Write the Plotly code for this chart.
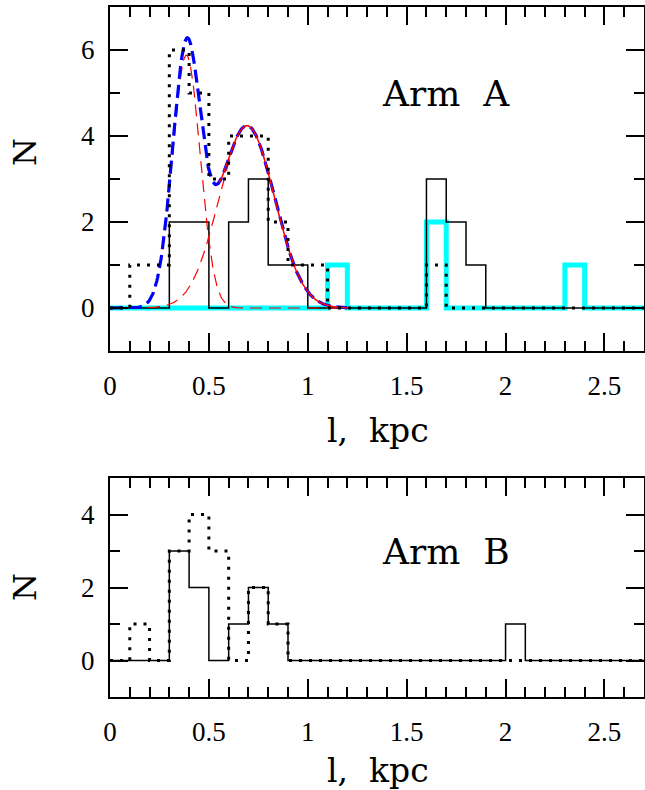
import numpy as np
import plotly.graph_objects as go

# bin edges (kpc), 0.1 kpc bins
edges = [0.0, 0.1, 0.2, 0.3, 0.4, 0.5, 0.6, 0.7, 0.8, 0.9, 1.0, 1.1, 1.2, 1.3, 1.4,
         1.5, 1.6, 1.7, 1.8, 1.9, 2.0, 2.1, 2.2, 2.3, 2.4, 2.5, 2.6, 2.7]

# Arm A histograms (counts per bin)
armA_solid = [0, 0, 0, 2, 2, 0, 2, 3, 1, 1, 0, 0, 0, 0, 0, 0, 3, 2, 1, 0, 0, 0, 0, 0, 0, 0, 0]
armA_dotted = [0, 1, 1, 6, 5, 3, 4, 4, 2, 1, 1, 0, 0, 0, 0, 0, 1, 0, 0, 0, 0, 0, 0, 0, 0, 0, 0]
armA_cyan = [0, 0, 0, 0, 0, 0, 0, 0, 0, 0, 0, 1, 0, 0, 0, 0, 2, 0, 0, 0, 0, 0, 0, 1, 0, 0, 0]

# Arm B histograms
armB_solid = [0, 0, 0, 3, 2, 0, 1, 2, 1, 0, 0, 0, 0, 0, 0, 0, 0, 0, 0, 0, 1, 0, 0, 0, 0, 0, 0]
armB_dotted = [0, 1, 0, 3, 4, 3, 0, 2, 1, 0, 0, 0, 0, 0, 0, 0, 0, 0, 0, 0, 0, 0, 0, 0, 0, 0, 0]

# Gaussian fit components (amplitude, centre kpc, sigma kpc)
g1 = (5.88, 0.386, 0.070)
g2 = (4.24, 0.692, 0.140)
fit_range = (0.0, 1.2)

x_ticks = [0, 0.5, 1, 1.5, 2, 2.5]
x_ticktext = ['0', '0.5', '1', '1.5', '2', '2.5']
yA_ticks = [0, 2, 4, 6]
yB_ticks = [0, 2, 4]


def gauss(x, p):
    a, m, s = p
    return a * np.exp(-(x - m) ** 2 / (2 * s * s))


def step(counts):
    return edges, list(counts) + [counts[-1]]


xf = np.linspace(fit_range[0], fit_range[1], 400)
y1 = gauss(xf, g1)
y2 = gauss(xf, g2)
ysum = y1 + y2
mask = xf >= 0.55

fig = go.Figure()

DOT = '3px,7px'
# ---- Arm A ----
x, y = step(armA_cyan)
fig.add_trace(go.Scatter(x=x, y=y, line_shape='hv', mode='lines',
                         line=dict(color='#00FFFF', width=5), xaxis='x', yaxis='y'))
x, y = step(armA_solid)
fig.add_trace(go.Scatter(x=x, y=y, line_shape='hv', mode='lines',
                         line=dict(color='black', width=1.5), xaxis='x', yaxis='y'))
fig.add_trace(go.Scatter(x=xf, y=y1, mode='lines',
                         line=dict(color='red', width=1.2, dash='12px,7px'), xaxis='x', yaxis='y'))
fig.add_trace(go.Scatter(x=xf, y=y2, mode='lines',
                         line=dict(color='red', width=1.2, dash='12px,7px'), xaxis='x', yaxis='y'))
fig.add_trace(go.Scatter(x=xf, y=ysum, mode='lines',
                         line=dict(color='blue', width=3.2, dash='13px,6px'), xaxis='x', yaxis='y'))
fig.add_trace(go.Scatter(x=xf[mask], y=ysum[mask], mode='lines',
                         line=dict(color='red', width=1.5), xaxis='x', yaxis='y'))
x, y = step(armA_dotted)
fig.add_trace(go.Scatter(x=x, y=y, line_shape='hv', mode='lines',
                         line=dict(color='black', width=3, dash=DOT), xaxis='x', yaxis='y'))

# ---- Arm B ----
x, y = step(armB_solid)
fig.add_trace(go.Scatter(x=x, y=y, line_shape='hv', mode='lines',
                         line=dict(color='black', width=1.5), xaxis='x2', yaxis='y2'))
x, y = step(armB_dotted)
fig.add_trace(go.Scatter(x=x, y=y, line_shape='hv', mode='lines',
                         line=dict(color='black', width=3, dash=DOT), xaxis='x2', yaxis='y2'))

W, H = 645, 790
xdom = [110 / W, 644 / W]
top_dom = [1 - 351 / H, 1 - 7 / H]
bot_dom = [1 - 697 / H, 1 - 478 / H]

tickfont = dict(family='Liberation Serif', size=27, color='black')
tick_style = dict(ticks='inside', ticklen=18, tickwidth=1.8, tickcolor='black',
                  showgrid=False, zeroline=False, automargin=False)
xminor = dict(dtick=0.1, tick0=0, ticks='inside', ticklen=10, tickwidth=1.5, tickcolor='black')
yminor = dict(dtick=1, tick0=0, ticks='inside', ticklen=10, tickwidth=1.5, tickcolor='black')

main_x = dict(range=[0, 2.7], tickvals=x_ticks, ticktext=x_ticktext, minor=xminor,
              showline=True, linecolor='black', linewidth=2, mirror=True,
              tickfont=tickfont, ticklabelstandoff=10, **tick_style)
main_y = dict(minor=yminor, showline=True, linecolor='black', linewidth=2, mirror=True,
              tickfont=tickfont, ticklabelstandoff=8, **tick_style)
mirror_x = dict(range=[0, 2.7], tickvals=x_ticks, minor=xminor, side='top',
                showticklabels=False, showline=False, **tick_style)
mirror_y = dict(minor=yminor, side='right', showticklabels=False, showline=False, **tick_style)

fig.update_layout(
    width=W, height=H, margin=dict(l=0, r=0, t=0, b=0, autoexpand=False),
    template='none',
    paper_bgcolor='white', plot_bgcolor='white', showlegend=False,
    xaxis=dict(domain=xdom, anchor='y', **main_x),
    yaxis=dict(domain=top_dom, anchor='x', range=[-1, 7], tickvals=yA_ticks, **main_y),
    xaxis2=dict(domain=xdom, anchor='y2', **main_x),
    yaxis2=dict(domain=bot_dom, anchor='x2', range=[-1, 5], tickvals=yB_ticks, **main_y),
    xaxis3=dict(overlaying='x', anchor='y', **mirror_x),
    yaxis3=dict(overlaying='y', anchor='x', range=[-1, 7], tickvals=yA_ticks, **mirror_y),
    xaxis4=dict(overlaying='x2', anchor='y2', **mirror_x),
    yaxis4=dict(overlaying='y2', anchor='x2', range=[-1, 5], tickvals=yB_ticks, **mirror_y),
)

# invisible anchor traces so the mirror axes are drawn
fig.add_trace(go.Scatter(x=[0], y=[0], mode='markers', marker=dict(opacity=0),
                         hoverinfo='skip', xaxis='x3', yaxis='y3'))
fig.add_trace(go.Scatter(x=[0], y=[0], mode='markers', marker=dict(opacity=0),
                         hoverinfo='skip', xaxis='x4', yaxis='y4'))

serif = 'DejaVu Serif'
ann = [
    dict(text='Arm  A', x=1.70, y=5.0, xref='x', yref='y', font=dict(family=serif, size=36, color='black')),
    dict(text='Arm  B', x=1.70, y=3.0, xref='x2', yref='y2', font=dict(family=serif, size=36, color='black')),
    dict(text='l,  kpc', x=378 / W, y=1 - 430 / H, xref='paper', yref='paper',
         font=dict(family=serif, size=33, color='black')),
    dict(text='l,  kpc', x=378 / W, y=1 - 770 / H, xref='paper', yref='paper',
         font=dict(family=serif, size=33, color='black')),
    dict(text='N', x=25 / W, y=1 - 152 / H, xref='paper', yref='paper', textangle=-90,
         font=dict(family=serif, size=32, color='black')),
    dict(text='N', x=25 / W, y=1 - 587 / H, xref='paper', yref='paper', textangle=-90,
         font=dict(family=serif, size=32, color='black')),
]
for a in ann:
    a.update(showarrow=False, xanchor='center', yanchor='middle')
fig.update_layout(annotations=ann)

fig.write_html('out.html')
